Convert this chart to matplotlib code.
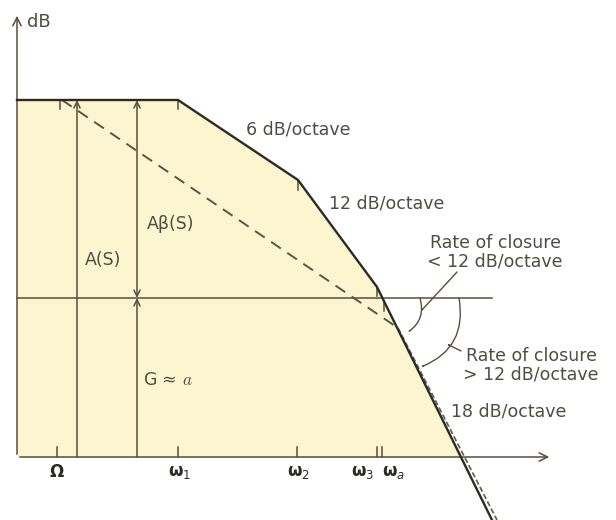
import numpy as np
import matplotlib
matplotlib.use("Agg")
import matplotlib.pyplot as plt
from matplotlib.patches import FancyArrowPatch

# Asymptotic Bode sketch, drawn in a sheet coordinate system (x right, y down)
axis_x0, axis_y0 = 17, 457          # origin of the frequency / dB axes
axis_x_end, axis_y_top = 552, 13

# open-loop gain A(S): break points
loop_x = [17, 178, 298, 377, 492]
loop_y = [100, 100, 180, 287, 520]

# loop-gain A*beta(S) (dashed)
beta_x = [62, 398, 497]
beta_y = [100, 328, 520]

closure_level = 298                 # closed-loop gain G
closure_x_end = 492

# frequency marks on the axis
freq_labels = [r"$\mathbf{\Omega}$", r"$\mathbf{\omega}_1$", r"$\mathbf{\omega}_2$",
               r"$\mathbf{\omega}_3$", r"$\mathbf{\omega}_a$"]
freq_pos = [57, 178, 297, 377, 382]
freq_label_x = [57, 179, 298, 363, 393]

# break-point marks hanging from the curves
break_x = [60, 178, 298, 377, 384]
break_y = [100, 100, 181, 287, 302]

slope_labels = ["6 dB/octave", "12 dB/octave", "18 dB/octave"]
slope_label_xy = [(246, 130), (329, 204), (451, 412)]

ink = "#2e2a22"
thin = "#5b4d3c"
txt = "#4e4d42"
fill_col = "#fbf6d0"
font = "DejaVu Sans"
fs = 12.5

fig = plt.figure(figsize=(6.16, 5.2), dpi=100)
ax = fig.add_axes([0, 0, 1, 1])
ax.set_xlim(0, 616)
ax.set_ylim(520, 0)
ax.axis("off")

# shaded region under the open-loop curve
xs = np.linspace(axis_x0, 492, 800)
ys = np.interp(xs, loop_x, loop_y)
mask = ys <= axis_y0
ax.fill_between(xs[mask], ys[mask], axis_y0, color=fill_col, lw=0, zorder=0)

# axes with arrows
ax.annotate("", xy=(axis_x_end, axis_y0), xytext=(axis_x0, axis_y0),
            arrowprops=dict(arrowstyle="->,head_length=0.6,head_width=0.3", color=thin, lw=1.1))
ax.annotate("", xy=(axis_x0, axis_y_top), xytext=(axis_x0, axis_y0),
            arrowprops=dict(arrowstyle="->,head_length=0.6,head_width=0.3", color=thin, lw=1.1))
ax.text(27, 22, "dB", fontsize=13, color=txt, family=font, ha="left", va="center")

# curves
ax.plot(loop_x, loop_y, color=ink, lw=1.7, zorder=3, solid_joinstyle="miter")
ax.plot(beta_x[:2], beta_y[:2], color="#5a5446", lw=1.4, ls=(0, (6, 4)), zorder=2)
ax.plot(beta_x[1:], beta_y[1:], color="#6a6452", lw=1.3, ls=(0, (3, 1.5)), zorder=2)
ax.plot([axis_x0, closure_x_end], [closure_level, closure_level], color=thin, lw=1.1, zorder=2)

# axis ticks and labels
for p in freq_pos:
    ax.plot([p, p], [axis_y0 - 10, axis_y0], color=thin, lw=1.1)
for lab, lx in zip(freq_labels, freq_label_x):
    ax.text(lx, 472, lab, fontsize=12, color=ink, ha="center", va="center",
            math_fontfamily="dejavusans")

# break marks
for bx, by in zip(break_x, break_y):
    ax.plot([bx, bx], [by, by + 9], color=thin, lw=1.1)

# gain arrows
arw = dict(arrowstyle="->,head_length=0.45,head_width=0.22", color=thin, lw=1.1,
           shrinkA=0, shrinkB=0)
ax.annotate("", xy=(77, loop_y[0]), xytext=(77, axis_y0), arrowprops=arw)
ax.annotate("", xy=(137, loop_y[0]), xytext=(137, closure_level),
            arrowprops=dict(arw, arrowstyle="<->,head_length=0.45,head_width=0.22"))
ax.annotate("", xy=(137, closure_level), xytext=(137, axis_y0), arrowprops=arw)

ax.text(85, 260, "A(S)", fontsize=fs, color=txt, family=font, ha="left", va="center")
ax.text(147, 224, "A\u03b2(S)", fontsize=fs, color=txt, family=font, ha="left", va="center")
ax.text(143, 380, "G \u2248 $a$", fontsize=fs, color=txt, family=font, ha="left", va="center",
        math_fontfamily="cm")

for lab, (lx, ly) in zip(slope_labels, slope_label_xy):
    ax.text(lx, ly, lab, fontsize=fs, color=txt, family=font, ha="left", va="center")

# rate-of-closure angle marks
small = dict(arrowstyle="->,head_length=0.4,head_width=0.18", color=thin, lw=1.0,
             shrinkA=0, shrinkB=0)
ax.add_patch(FancyArrowPatch((420, closure_level), (408, 332),
                             connectionstyle="arc3,rad=-0.35", **small))
ax.add_patch(FancyArrowPatch((457, 272), (421, 311), **small))
ax.add_patch(FancyArrowPatch((459, closure_level), (421, 367),
                             connectionstyle="arc3,rad=-0.4", **small))
ax.add_patch(FancyArrowPatch((461, 351), (447, 344), **small))

ax.text(495, 252, "Rate of closure\n< 12 dB/octave", fontsize=fs, color=txt, family=font,
        ha="center", va="center", linespacing=1.05)
ax.text(531, 365, "Rate of closure\n> 12 dB/octave", fontsize=fs, color=txt, family=font,
        ha="center", va="center", linespacing=1.05)

fig.savefig("out.png", dpi=100, facecolor="white")
